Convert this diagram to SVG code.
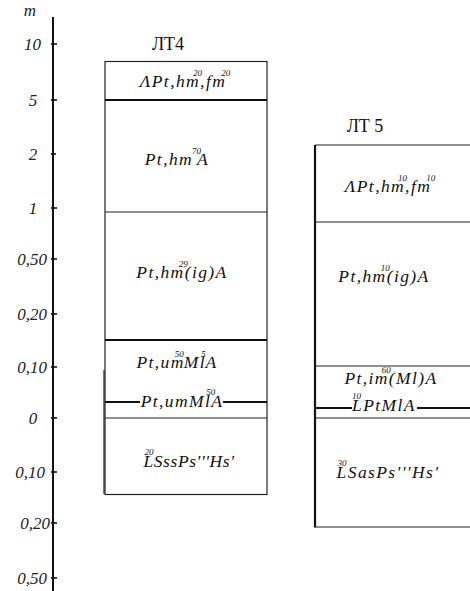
<svg xmlns="http://www.w3.org/2000/svg" width="470" height="591" viewBox="0 0 470 591">
<style>
text{font-family:'Liberation Serif','Times New Roman',Tinos,'DejaVu Serif',serif}
.ax{font-style:italic;font-size:17px;fill:#222}
.ttl{font-size:18px;fill:#111}
.lbl{font-style:italic;font-size:17.5px;fill:#111;letter-spacing:1.4px}
.sup{font-size:9px;letter-spacing:0}
.thin{stroke:#222;stroke-width:1.2;fill:none}
.thick{stroke:#111;stroke-width:2.2;fill:none}
</style>
<rect width="470" height="591" fill="#fff"/>
<g id="axis">
<line x1="53" y1="17" x2="53" y2="591" stroke="#111" stroke-width="2"/>
<g stroke="#111" stroke-width="1.6">
<line x1="51" y1="44" x2="57" y2="44"/><line x1="51" y1="100" x2="57" y2="100"/><line x1="51" y1="154" x2="56" y2="154"/>
<line x1="51" y1="208" x2="57" y2="208"/><line x1="51" y1="259" x2="57" y2="259"/><line x1="51" y1="314" x2="57" y2="314"/>
<line x1="51" y1="367" x2="57" y2="367"/><line x1="51" y1="418" x2="57" y2="418"/><line x1="51" y1="472" x2="57" y2="472"/>
<line x1="51" y1="523" x2="57" y2="523"/><line x1="51" y1="578" x2="57" y2="578"/>
</g>
<text class="ax" x="30" y="16" text-anchor="middle">m</text>
<text class="ax" x="41" y="50" text-anchor="end">10</text>
<text class="ax" x="33" y="106" text-anchor="middle">5</text>
<text class="ax" x="33" y="160" text-anchor="middle">2</text>
<text class="ax" x="33" y="214" text-anchor="middle">1</text>
<text class="ax" x="47" y="265" text-anchor="end">0,50</text>
<text class="ax" x="47" y="320" text-anchor="end">0,20</text>
<text class="ax" x="47" y="373" text-anchor="end">0,10</text>
<text class="ax" x="33" y="424" text-anchor="middle">0</text>
<text class="ax" x="45" y="478" text-anchor="end">0,10</text>
<text class="ax" x="50" y="529" text-anchor="end">0,20</text>
<text class="ax" x="47" y="584" text-anchor="end">0,50</text>
</g>
<g id="lt4">
<text class="ttl" x="168" y="50" text-anchor="middle">ЛТ4</text>
<rect x="105" y="61.5" width="162" height="433" class="thin"/>
<line x1="104" y1="370" x2="104" y2="494" class="thin"/>
<line x1="105" y1="100" x2="267" y2="100" class="thick"/>
<line x1="105" y1="212" x2="267" y2="212" class="thin"/>
<line x1="105" y1="340" x2="267" y2="340" class="thick"/>
<line x1="105" y1="402" x2="140" y2="402" class="thick"/>
<line x1="223" y1="402" x2="267" y2="402" class="thick"/>
<line x1="105" y1="418" x2="267" y2="418" class="thin"/>
<text class="lbl" x="185" y="87" text-anchor="middle">ΛPt,hm<tspan class="sup" dx="-7" dy="-11">20</tspan><tspan dx="-2" dy="11">,fm</tspan><tspan class="sup" dx="-5" dy="-11">20</tspan></text>
<text class="lbl" x="177" y="165" text-anchor="middle">Pt,hm<tspan class="sup" dx="-1" dy="-11">70</tspan><tspan dx="-4" dy="11">A</tspan></text>
<text class="lbl" x="182" y="278" text-anchor="middle">Pt,hm<tspan class="sup" dx="-6" dy="-11">29</tspan><tspan dx="-3" dy="11">(ig)A</tspan></text>
<text class="lbl" x="177" y="368" text-anchor="middle">Pt,um<tspan class="sup" dx="-10" dy="-11">50</tspan><tspan dx="0" dy="11">Ml</tspan><tspan class="sup" dx="-5" dy="-11">5</tspan><tspan dx="0" dy="11">A</tspan></text>
<text class="lbl" x="182" y="407" text-anchor="middle">Pt,umMl<tspan class="sup" dx="-5" dy="-12">50</tspan><tspan dx="-4" dy="12">A</tspan></text>
<text class="lbl" x="189" y="467" text-anchor="middle" style="letter-spacing:0.6px"><tspan class="sup" dy="-12">20</tspan><tspan dx="-10" dy="12">LSssPs'''Hs'</tspan></text>
</g>
<g id="lt5">
<text class="ttl" x="365" y="132" text-anchor="middle">ЛТ 5</text>
<line x1="315" y1="145" x2="315" y2="527.5" class="thick"/>
<line x1="315" y1="145" x2="470" y2="145" class="thin"/>
<line x1="315" y1="527" x2="470" y2="527" class="thin"/>
<line x1="315" y1="222" x2="470" y2="222" class="thin"/>
<line x1="315" y1="366" x2="470" y2="366" class="thin"/>
<line x1="315" y1="408" x2="352" y2="408" class="thick"/>
<line x1="417" y1="408" x2="470" y2="408" class="thick"/>
<line x1="315" y1="418" x2="470" y2="418" class="thin"/>
<text class="lbl" x="390" y="192" text-anchor="middle">ΛPt,hm<tspan class="sup" dx="-7" dy="-11">10</tspan><tspan dx="-2" dy="11">,fm</tspan><tspan class="sup" dx="-5" dy="-11">10</tspan></text>
<text class="lbl" x="384" y="282" text-anchor="middle">Pt,hm<tspan class="sup" dx="-6" dy="-11">10</tspan><tspan dx="-3" dy="11">(ig)A</tspan></text>
<text class="lbl" x="391" y="384" text-anchor="middle">Pt,im<tspan class="sup" dx="-7" dy="-11">60</tspan><tspan dx="-2" dy="11">(Ml)A</tspan></text>
<text class="lbl" x="384" y="411" text-anchor="middle"><tspan class="sup" dy="-12">10</tspan><tspan dx="-9" dy="12">LPtMlA</tspan></text>
<text class="lbl" x="388" y="478" text-anchor="middle"><tspan class="sup" dy="-12">30</tspan><tspan dx="-10" dy="12">LSasPs'''Hs'</tspan></text>
</g>
</svg>
